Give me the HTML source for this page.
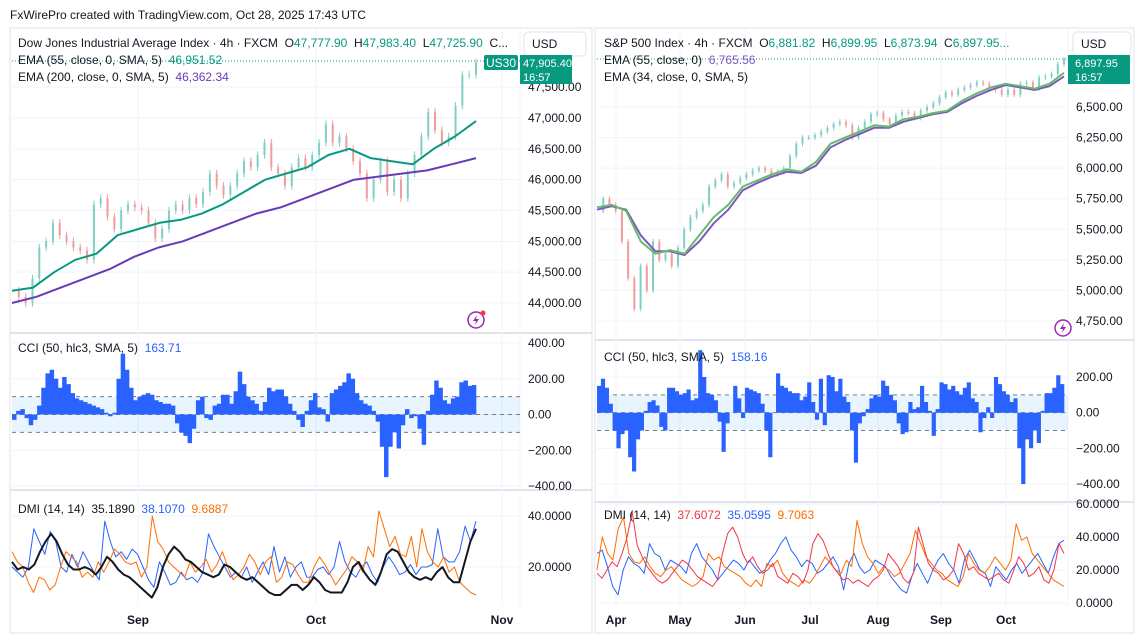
<!DOCTYPE html>
<html><head><meta charset="utf-8"><style>
html,body{margin:0;padding:0;background:#fff;}
svg{display:block;font-family:"Liberation Sans",sans-serif;}
</style></head><body>
<svg id="c" width="1140" height="641" viewBox="0 0 1140 641" xmlns="http://www.w3.org/2000/svg"></svg>
<script>
// ---- Dow Jones data ----
const dowClose=[44200,44100,44000,44400,44900,45000,45300,45100,45000,44900,44850,44700,45600,45700,45400,45200,45500,45600,45550,45500,45300,45050,45200,45500,45600,45500,45700,45600,45800,46100,45900,45750,45900,46100,46300,46200,46400,46600,46200,46100,45900,46200,46350,46200,46400,46600,46900,46600,46700,46500,46300,46100,45700,46000,46300,45800,46000,45700,46100,46400,46700,47100,46800,46600,46700,47200,47700,47700,47900];
const dowEma55=[44200,44250,44500,44700,44800,45100,45200,45300,45350,45450,45600,45800,46000,46100,46200,46400,46500,46350,46300,46250,46500,46700,46950];
const dowEma200=[44000,44100,44250,44400,44550,44750,44900,45000,45150,45300,45450,45550,45700,45850,46000,46050,46100,46150,46250,46350];
const dowTicks=[44000,44500,45000,45500,46000,46500,47000,47500];
const dowCci=[-30,20,30,-20,-60,-30,50,150,230,250,200,150,210,170,120,90,80,70,60,50,40,30,10,-10,10,200,340,250,150,80,100,110,120,110,80,70,60,60,50,-50,-100,-120,-160,-80,80,100,-20,-30,50,60,110,110,60,130,240,170,100,80,60,20,70,150,130,140,140,100,60,20,-30,-70,20,80,120,40,30,-40,120,140,160,180,230,200,120,80,60,50,20,-40,-180,-350,-180,-100,-190,-60,30,-20,-10,-80,-170,20,110,190,150,80,60,90,100,180,190,160,165];
const cciTicksL=[400,200,0,-200,-400];
const dowAdx=[22,19,20,19,21,26,30,33,30,25,21,19,19,20,19,17,20,24,22,19,17,16,14,12,10,8,12,20,25,28,26,23,22,20,18,17,16,17,21,20,18,16,15,16,14,12,10,9,9,11,13,13,11,13,16,14,11,10,10,10,14,20,22,18,15,13,18,25,27,26,22,18,16,15,16,15,18,20,16,14,14,22,30,35];
const dowDip=[20,18,16,20,35,30,25,34,30,20,18,25,20,26,22,18,15,38,30,24,26,23,27,25,20,15,12,22,18,13,14,18,15,16,14,18,33,28,24,20,16,18,16,20,14,18,22,17,28,18,24,16,20,22,16,16,19,20,17,20,30,22,18,16,20,22,17,14,20,24,21,17,18,21,17,20,20,21,35,24,22,22,26,36,30,38];
const dowDim=[26,22,20,14,10,16,15,11,13,20,26,24,22,16,18,16,22,18,22,27,25,22,21,22,16,20,40,30,27,22,20,18,16,22,18,20,23,18,21,26,20,15,17,20,25,22,17,22,24,14,16,22,21,17,14,14,20,24,21,17,13,16,19,24,22,18,28,24,42,35,28,32,25,24,32,20,35,26,22,20,24,18,20,14,12,10,9];
const dmiTicksL=[40,20];
const monthsL=["Sep","Oct","Nov"];
// ---- S&P data ----
const spClose=[5650,5750,5700,5650,5400,5100,4850,5200,5000,5400,5250,5300,5200,5350,5500,5600,5650,5700,5850,5900,5950,5850,5880,5920,5950,5980,6000,5980,5950,5970,6000,6100,6200,6250,6250,6270,6300,6330,6360,6380,6350,6250,6330,6380,6440,6450,6400,6360,6430,6460,6450,6410,6470,6500,6530,6580,6620,6600,6640,6660,6680,6700,6690,6650,6640,6600,6640,6600,6690,6700,6650,6740,6750,6770,6850,6890];
const spEma34=[5680,5700,5650,5400,5300,5330,5300,5450,5600,5700,5850,5900,5950,5990,5970,6050,6200,6250,6300,6350,6340,6400,6420,6450,6470,6550,6610,6660,6690,6670,6650,6690,6780];
const spEma55=[5660,5690,5660,5450,5320,5320,5290,5400,5550,5660,5820,5880,5930,5970,5960,6020,6170,6230,6280,6330,6330,6380,6410,6440,6460,6530,6590,6640,6680,6660,6640,6670,6750];
const spTicks=[4750,5000,5250,5500,5750,6000,6250,6500];
const spCci=[150,190,140,50,-100,-200,-120,-100,-250,-330,-150,-100,10,60,70,40,-80,-100,140,140,120,100,110,130,70,80,350,200,110,100,70,-50,-220,-60,0,150,80,-30,140,130,120,110,50,-100,-250,0,220,150,140,120,110,110,70,90,170,60,-40,190,-70,210,200,120,190,90,60,-100,-280,-60,-20,20,80,100,90,180,150,100,70,-60,-120,-110,60,20,30,150,60,10,-130,20,170,160,130,150,120,100,140,170,80,60,-110,-30,30,-30,200,160,120,100,60,80,-200,-400,-150,-200,-100,-170,10,110,110,140,210,160];
const cciTicksR=[200,0,-200,-400];
const spAdx=[18,15,20,25,22,30,40,55,35,28,22,18,14,12,14,18,22,26,24,20,16,14,12,10,14,30,42,46,40,30,24,28,22,18,20,24,16,14,12,18,16,12,20,36,42,38,30,22,18,14,15,12,14,12,10,14,16,20,30,26,22,15,12,18,46,35,24,20,18,14,16,20,36,30,20,22,18,16,14,16,18,14,12,20,28,24,16,18,22,14,12,20,36,30];
const spDip=[30,32,22,10,5,20,28,24,22,18,36,30,28,20,26,24,22,18,30,36,28,24,20,14,18,22,26,24,20,26,22,18,20,26,30,36,40,32,28,22,26,24,18,20,24,28,22,8,24,30,22,18,20,26,24,22,16,12,8,6,16,24,18,12,20,26,30,24,20,12,26,32,26,20,18,10,22,18,14,20,24,18,22,26,30,24,18,28,36,38];
const spDim=[20,40,30,26,45,52,30,25,24,28,22,18,16,20,22,18,14,12,10,12,16,30,26,28,22,20,18,16,12,10,14,10,24,22,26,18,14,12,10,14,12,16,22,28,24,20,18,26,22,50,36,28,24,18,22,20,16,18,24,30,44,36,28,24,20,18,14,12,10,16,30,24,20,18,22,28,24,20,26,48,38,40,30,26,22,18,14,12,10];
const dmiTicksR=[60,40,20,0];
const monthsR=["Apr","May","Jun","Jul","Aug","Sep","Oct"];

const NS="http://www.w3.org/2000/svg";
const svg=document.getElementById('c');
function mk(tag,attrs,name,parent){
  const el=document.createElementNS(NS,tag);
  for(const k in attrs) el.setAttribute(k,attrs[k]);
  
  
  (parent||svg).appendChild(el);return el;
}
function txt(x,y,s,fill,size,name,anchor,weight){
  const t=mk('text',{x:x,y:y,fill:fill,'font-size':size||12,'text-anchor':anchor||'start','font-weight':weight||'normal'},name);
  t.textContent=s;return t;
}
function lin(d0,d1,r0,r1){return v=>r0+(v-d0)*(r1-r0)/(d1-d0);}
function idxX(n,x0,x1){return i=>x0+i*(x1-x0)/(n-1);}
function line(arr,xf,yf,color,w,name){
  const X=idxX(arr.length,xf[0],xf[1]);
  const d=arr.map((v,i)=>(i?'L':'M')+X(i).toFixed(1)+' '+yf(v).toFixed(1)).join(' ');
  return mk('path',{d:d,fill:'none',stroke:color,'stroke-width':w,'stroke-linejoin':'round'},name);
}
function candles(arr,x0,x1,yf,wick,name){
  const X=idxX(arr.length,x0,x1);
  const g=mk('g',{},name);
  for(let i=1;i<arr.length;i++){
    const o=arr[i-1],c=arr[i],up=c>=o,col=up?'#7fcfc2':'#f39a9a';
    const hi=Math.max(o,c)+wick,lo=Math.min(o,c)-wick;
    mk('line',{x1:X(i),x2:X(i),y1:yf(hi),y2:yf(lo),stroke:col,'stroke-width':1},'candle-wick',g);
    const top=yf(Math.max(o,c)),bot=yf(Math.min(o,c));
    mk('rect',{x:X(i)-1,y:top,width:2,height:Math.max(1,bot-top),fill:col},'candle-body',g);
  }
}
function hist(arr,x0,x1,yf,name){
  const w=(x1-x0)/arr.length;
  const d=arr.map((v,i)=>{const x=x0+i*w;return 'M'+x.toFixed(2)+' '+yf(0).toFixed(1)+'V'+yf(v).toFixed(1)+'H'+(x+w+0.3).toFixed(2)+'V'+yf(0).toFixed(1)+'Z';}).join('');
  return mk('path',{d:d,fill:'#2962ff'},name);
}
function grid(x0,x1,y,name){mk('line',{x1:x0,x2:x1,y1:y,y2:y,stroke:'#f0f3fa','stroke-width':1},name);}
function vgrid(x,y0,y1,name){mk('line',{x1:x,x2:x,y1:y0,y2:y1,stroke:'#f0f3fa','stroke-width':1},name);}

txt(10,19,"FxWirePro created with TradingView.com, Oct 28, 2025 17:43 UTC","#131722",12,'watermark-header');

function panel(P){
  const {px0,px1,ax,top,pb,cb,db,bottom}=P;
  mk('rect',{x:px0-2,y:top,width:P.frameR-px0+2,height:bottom-top,fill:'#fff',stroke:'#e0e3eb','stroke-width':1},P.id+'-frame');
  mk('line',{x1:px0-2,x2:P.frameR,y1:pb,y2:pb,stroke:'#e0e3eb','stroke-width':2},P.id+'-pane-separator');
  mk('line',{x1:px0-2,x2:P.frameR,y1:cb,y2:cb,stroke:'#e0e3eb','stroke-width':2},P.id+'-pane-separator');
  mk('line',{x1:ax,x2:ax,y1:top,y2:db,stroke:'#f0f3fa','stroke-width':1},P.id+'-axis-line');
  P.monthX.forEach((x,i)=>{vgrid(x,top,db,'month-grid');});
  const yp=lin(P.pd[0],P.pd[1],P.pr[0],P.pr[1]);
  P.pTicks.forEach(v=>{grid(px0,ax,yp(v),'price-grid');txt(ax+8,yp(v)+4,v.toLocaleString('en-US',{minimumFractionDigits:2}),'#131722',12,'price-tick');});
  candles(P.close,px0,P.dx1,yp,P.wick,P.id+'-candles');
  line(P.emaA,[px0,P.dx1],yp,P.emaAc,2,P.id+'-ema-a');
  line(P.emaB,[px0,P.dx1],yp,P.emaBc,2,P.id+'-ema-b');
  const yc=lin(P.cd[0],P.cd[1],P.cr[0],P.cr[1]);
  P.cTicks.forEach(v=>{grid(px0,ax,yc(v),'cci-grid');txt(ax+8,yc(v)+4,(v<0?'−':'')+Math.abs(v).toFixed(2),'#131722',12,'cci-tick');});
  mk('rect',{x:px0,y:yc(100),width:ax-px0,height:yc(-100)-yc(100),fill:'#2196f3','fill-opacity':0.1},P.id+'-cci-band');
  [100,0,-100].forEach(v=>mk('line',{x1:px0,x2:ax,y1:yc(v),y2:yc(v),stroke:'#787b86','stroke-dasharray':'4 4','stroke-width':1},'cci-band-line'));
  hist(P.cci,px0,P.dx1,yc,P.id+'-cci-histogram');
  const yd=lin(P.dd[0],P.dd[1],P.dr[0],P.dr[1]);
  P.dTicks.forEach(v=>{grid(px0,ax,yd(v),'dmi-grid');txt(ax+8,yd(v)+4,v.toFixed(4),'#131722',12,'dmi-tick');});
  line(P.dmi2,[px0,P.dx1],yd,'#2962ff',1,P.id+'-di-plus');
  line(P.dmi3,[px0,P.dx1],yd,'#ff6d00',1,P.id+'-di-minus');
  line(P.dmi1,[px0,P.dx1],yd,P.dmi1c,P.dmi1w,P.id+'-adx');
  P.months.forEach((m,i)=>txt(P.monthX[i],624,m,'#131722',12,'month-label','middle','bold'));
  mk('line',{x1:px0,x2:ax,y1:P.lastY,y2:P.lastY,stroke:'#089981','stroke-dasharray':'1 2','stroke-width':1},P.id+'-last-price-line');
}

panel({id:'dow',px0:12,px1:476,dx1:476,ax:520,frameR:592,top:28,pb:333,cb:490,db:605,bottom:633,
  pd:[44000,47000],pr:[303,118],pTicks:dowTicks,close:dowClose,wick:60,
  emaA:dowEma200,emaAc:'#673ab7',emaB:dowEma55,emaBc:'#089981',
  cd:[400,-400],cr:[343,486],cTicks:cciTicksL,cci:dowCci,
  dd:[40,20],dr:[516,567],dTicks:dmiTicksL,dmi1:dowAdx,dmi1c:'#131722',dmi1w:2,dmi2:dowDip,dmi3:dowDim,
  months:monthsL,monthX:[138,316,502],lastY:61});
panel({id:'spx',px0:597,px1:1064,dx1:1064,ax:1068,frameR:1134,top:28,pb:340,cb:502,db:607,bottom:633,
  pd:[4750,6500],pr:[321,107],pTicks:spTicks,close:spClose,wick:20,
  emaA:spEma55,emaAc:'#7e57c2',emaB:spEma34,emaBc:'#66bb6a',
  cd:[200,-400],cr:[377,484],cTicks:cciTicksR,cci:spCci,
  dd:[60,0],dr:[504,603],dTicks:dmiTicksR,dmi1:spAdx,dmi1c:'#f23645',dmi1w:1,dmi2:spDip,dmi3:spDim,
  months:monthsR,monthX:[616,680,745,810,878,941,1006],lastY:59});

function legend(x,y,parts,name){
  const t=mk('text',{x:x,y:y,'font-size':12,'xml:space':'preserve'},name);
  t.setAttribute('style','white-space:pre');
  parts.forEach(p=>{const s=document.createElementNS(NS,'tspan');s.setAttribute('fill',p[1]);s.textContent=p[0];t.appendChild(s);});
}
const G='#089981',K='#131722';
legend(18,47,[["Dow Jones Industrial Average Index · 4h · FXCM  ",K],["O",K],["47,777.90",G],["  H",K],["47,983.40",G],["  L",K],["47,725.90",G],["  C...",K]],'dow-title-legend');
legend(18,64,[["EMA (55, close, 0, SMA, 5)  ",K],["46,951.52",G]],'dow-ema55-legend');
legend(18,81,[["EMA (200, close, 0, SMA, 5)  ",K],["46,362.34","#673ab7"]],'dow-ema200-legend');
legend(18,352,[["CCI (50, hlc3, SMA, 5)  ",K],["163.71","#2962ff"]],'dow-cci-legend');
legend(18,513,[["DMI (14, 14)  ",K],["35.1890  ",K],["38.1070  ","#2962ff"],["9.6887","#ff6d00"]],'dow-dmi-legend');
legend(604,47,[["S&P 500 Index · 4h · FXCM  ",K],["O",K],["6,881.82",G],["  H",K],["6,899.95",G],["  L",K],["6,873.94",G],["  C",K],["6,897.95...",G]],'spx-title-legend');
legend(604,64,[["EMA (55, close, 0)  ",K],["6,765.56","#7e57c2"]],'spx-ema55-legend');
legend(604,81,[["EMA (34, close, 0, SMA, 5)",K]],'spx-ema34-legend');
legend(604,361,[["CCI (50, hlc3, SMA, 5)  ",K],["158.16","#2962ff"]],'spx-cci-legend');
legend(604,519,[["DMI (14, 14)  ",K],["37.6072  ","#f23645"],["35.0595  ","#2962ff"],["9.7063","#ff6d00"]],'spx-dmi-legend');

const u1=mk('rect',{x:524,y:32,width:62,height:24,rx:4,fill:'#fff',stroke:'#e0e3eb'},'dow-currency-button');

txt(532,48,"USD",K,12,'dow-currency-label');
const u2=mk('rect',{x:1073,y:32,width:58,height:24,rx:4,fill:'#fff',stroke:'#e0e3eb'},'spx-currency-button');

txt(1081,48,"USD",K,12,'spx-currency-label');
mk('rect',{x:484,y:55,width:34,height:15,rx:2,fill:G},'dow-symbol-badge');
txt(501,67,"US30","#fff",12,'dow-symbol-text','middle');
mk('rect',{x:520,y:55,width:52,height:29,fill:G},'dow-last-price-box');
txt(523,67,"47,905.40","#fff",11,'dow-last-price');
txt(523,81,"16:57","#fff",11,'dow-countdown');
mk('rect',{x:1068,y:55,width:62,height:29,fill:G},'spx-last-price-box');
txt(1075,67,"6,897.95","#fff",11,'spx-last-price');
txt(1075,81,"16:57","#fff",11,'spx-countdown');
[[476,320],[1063,328]].forEach(p=>{
  mk('circle',{cx:p[0],cy:p[1],r:8,fill:'none',stroke:'#9c27b0','stroke-width':1.5},'alert-icon');
  mk('path',{d:`M${p[0]+1} ${p[1]-5}L${p[0]-3} ${p[1]+1}H${p[0]}L${p[0]-1} ${p[1]+5}L${p[0]+3} ${p[1]-1}H${p[0]}Z`,fill:'#9c27b0'},'alert-bolt');
});
mk('circle',{cx:483,cy:313,r:2.5,fill:'#f23645'},'alert-dot');
</script>
</body></html>
